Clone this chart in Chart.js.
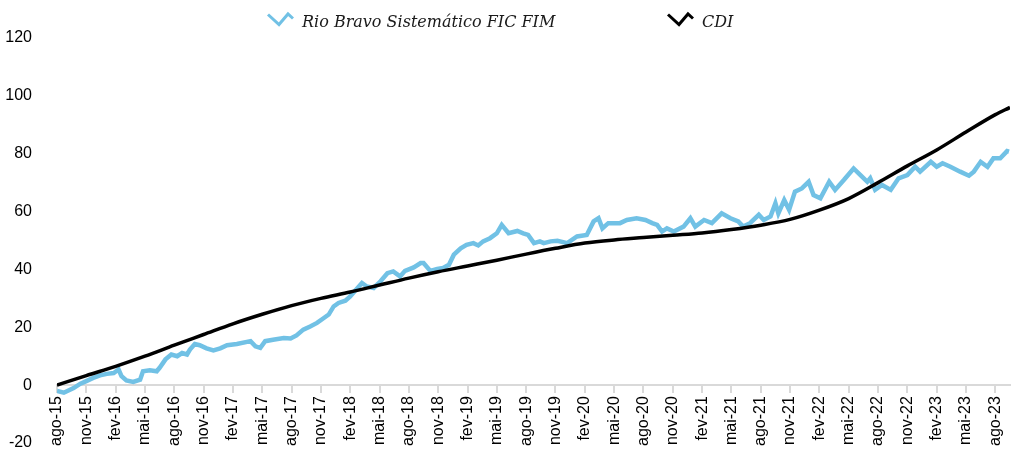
<!DOCTYPE html>
<html>
<head>
<meta charset="utf-8">
<script src="https://cdn.jsdelivr.net/npm/chart.js@4.4.0/dist/chart.umd.min.js"></script>
<style>
  html, body { margin: 0; padding: 0; background: #ffffff; }
  #wrap { width: 1026px; height: 453px; }
</style>
</head>
<body>
<div id="wrap"><canvas id="c" width="1026" height="453"></canvas></div>
<script>
// ---- Data ----
const seriesNames = ['Rio Bravo Sistemático FIC FIM', 'CDI'];

// x tick labels (quarterly, from ago-15)
const tickLabels = ['ago-15','nov-15','fev-16','mai-16','ago-16','nov-16','fev-17','mai-17','ago-17','nov-17',
  'fev-18','mai-18','ago-18','nov-18','fev-19','mai-19','ago-19','nov-19','fev-20','mai-20','ago-20','nov-20',
  'fev-21','mai-21','ago-21','nov-21','fev-22','mai-22','ago-22','nov-22','fev-23','mai-23','ago-23'];
// tick positions in months since ago-15
const tickMonths = [0,3,6,9,12,15,18,21,24,27,30,33,36,39,42,45,48,51,54,57,60,63,66,69,72,75,78,81,84,87,90,93,96];

// Rio Bravo Sistemático FIC FIM: months since ago-15, cumulative return (%)
const fundMonths = [0.0,0.7,1.7,2.4,3.0,3.7,4.4,5.1,5.8,6.3,6.6,7.1,7.8,8.5,8.8,9.5,10.2,10.5,11.1,11.7,
  12.3,12.8,13.3,13.6,14.1,14.6,15.3,16.0,16.7,17.4,18.4,19.8,20.3,20.8,21.3,22.1,23.2,23.9,24.5,25.2,
  25.9,26.6,27.3,27.8,28.3,28.8,29.5,30.0,30.5,31.2,31.7,32.4,33.1,33.8,34.4,35.1,35.6,36.5,37.2,37.5,
  38.2,38.9,39.5,40.1,40.6,41.3,41.9,42.6,43.1,43.6,44.3,45.0,45.5,46.2,47.1,47.7,48.2,48.8,49.4,49.8,
  50.5,51.2,52.2,53.2,54.2,54.9,55.4,55.8,56.4,57.6,58.3,59.3,60.2,60.9,61.4,61.9,62.4,63.1,64.1,64.8,
  65.3,66.2,67.0,68.0,68.9,69.7,70.2,70.9,71.8,72.3,73.0,73.5,73.8,74.4,74.9,75.5,76.2,76.9,77.4,78.1,
  79.0,79.6,80.5,81.5,82.2,82.9,83.2,83.7,84.4,85.3,86.1,87.0,87.8,88.3,89.4,90.0,90.6,91.4,92.4,93.3,
  93.8,94.5,95.2,95.8,96.5,97.2,97.4];
const fundValues = [-2.0,-2.6,-1.0,0.5,1.4,2.5,3.4,3.9,4.2,5.4,3.1,1.6,1.1,1.9,4.8,5.1,4.8,6.0,8.9,10.6,
  10.0,11.1,10.6,12.3,14.2,13.8,12.7,12.0,12.7,13.8,14.2,15.2,13.4,12.9,15.2,15.7,16.3,16.1,17.2,19.2,
  20.3,21.5,23.2,24.4,27.2,28.4,29.2,30.7,32.6,35.3,34.1,33.6,35.9,38.7,39.3,37.6,39.5,40.7,42.2,42.2,
  39.5,40.2,40.5,41.6,45.1,47.3,48.5,49.1,48.3,49.7,50.8,52.5,55.4,52.5,53.3,52.5,51.9,49.1,49.7,49.1,
  49.7,49.9,49.1,51.4,51.9,56.6,57.7,54.2,56.0,56.0,57.1,57.7,57.1,56.0,55.4,53.1,54.2,53.1,54.8,57.7,
  54.8,57.1,56.0,59.4,57.7,56.6,54.8,56.0,58.9,57.1,58.3,62.9,59.4,64.0,60.6,66.9,68.0,70.3,65.7,64.6,
  70.3,67.5,70.9,74.9,72.6,70.3,71.5,67.5,69.2,67.5,71.5,72.6,75.5,73.8,77.2,75.5,76.7,75.5,73.8,72.4,
  73.8,77.2,75.5,78.4,78.4,80.9,80.7];

// CDI: months since ago-15, cumulative return (%)
const cdiMonths = [0,3,6,9,12,15,18,21,24,27,30,33,36,39,42,45,48,51,54,57,60,63,66,69,72,75,78,81,84,87,90,93,96,97.5];
const cdiValues = [0,3.3,6.5,10.0,13.8,17.5,21.2,24.5,27.5,30.0,32.2,34.6,37.0,39.2,41.2,43.2,45.3,47.3,49.1,50.2,
  51.0,51.8,52.6,53.8,55.3,57.3,60.5,64.5,70.0,75.8,81.3,87.5,93.5,96.0];

const yMin = -20, yMax = 120, yStep = 20;
const xMax = 97.5;

// ---- Styles ----
const fundColor = '#71c1e5';
const cdiColor = '#000000';

const fundPoints = fundMonths.map((m, i) => ({ x: m, y: fundValues[i] }));
const cdiPoints = cdiMonths.map((m, i) => ({ x: m, y: cdiValues[i] }));

// custom legend matching the chevron symbols of the reference
const legendPlugin = {
  id: 'chevronLegend',
  afterDraw(chart) {
    const ctx = chart.ctx;
    const items = [
      { color: fundColor, x: 268, text: chart.data.datasets[0].label },
      { color: cdiColor, x: 668, text: chart.data.datasets[1].label }
    ];
    ctx.save();
    items.forEach(it => {
      ctx.strokeStyle = it.color;
      ctx.lineWidth = 3;
      ctx.lineJoin = 'miter';
      ctx.beginPath();
      ctx.moveTo(it.x, 14.5);
      ctx.lineTo(it.x + 11, 24.5);
      ctx.lineTo(it.x + 20, 14);
      ctx.lineTo(it.x + 25, 18.5);
      ctx.stroke();
      ctx.fillStyle = '#1a1a1a';
      ctx.font = 'italic 16px "DejaVu Serif"';
      ctx.textBaseline = 'alphabetic';
      ctx.textAlign = 'left';
      ctx.fillText(it.text, it.x + 34, 27);
    });
    ctx.restore();
  }
};

new Chart(document.getElementById('c'), {
  type: 'line',
  data: {
    datasets: [
      {
        label: seriesNames[0],
        data: fundPoints,
        borderColor: fundColor,
        backgroundColor: fundColor,
        borderWidth: 4.5,
        pointRadius: 0,
        tension: 0,
        order: 1
      },
      {
        label: seriesNames[1],
        data: cdiPoints,
        borderColor: cdiColor,
        backgroundColor: cdiColor,
        borderWidth: 3.5,
        pointRadius: 0,
        cubicInterpolationMode: 'monotone',
        order: 0
      }
    ]
  },
  options: {
    responsive: false,
    devicePixelRatio: 1,
    animation: false,
    layout: { padding: { top: 38, bottom: 10, left: 0, right: 16 } },
    plugins: {
      legend: { display: false },
      tooltip: { enabled: false }
    },
    scales: {
      x: {
        type: 'linear',
        position: { y: 0 },
        min: 0,
        max: xMax,
        afterBuildTicks: (scale) => { scale.ticks = tickMonths.map(v => ({ value: v })); },
        ticks: {
          autoSkip: false,
          minRotation: 90,
          maxRotation: 90,
          padding: 4,
          color: '#000000',
          font: { family: '"Liberation Sans", Arial, sans-serif', size: 16 },
          callback: (value, index) => tickLabels[index]
        },
        grid: {
          drawOnChartArea: false,
          drawTicks: true,
          tickLength: 7,
          color: '#d9d9d9',
          lineWidth: 2
        },
        border: { display: true, color: '#d9d9d9', width: 2 }
      },
      y: {
        min: yMin,
        max: yMax,
        afterFit: (scale) => {
          scale.width = 57;
          scale.paddingTop = 10;
          scale.paddingBottom = 10;
        },
        ticks: {
          stepSize: yStep,
          padding: 17,
          color: '#000000',
          font: { family: '"Liberation Sans", Arial, sans-serif', size: 16 }
        },
        grid: { display: false },
        border: { display: false }
      }
    }
  },
  plugins: [legendPlugin]
});
</script>
</body>
</html>
